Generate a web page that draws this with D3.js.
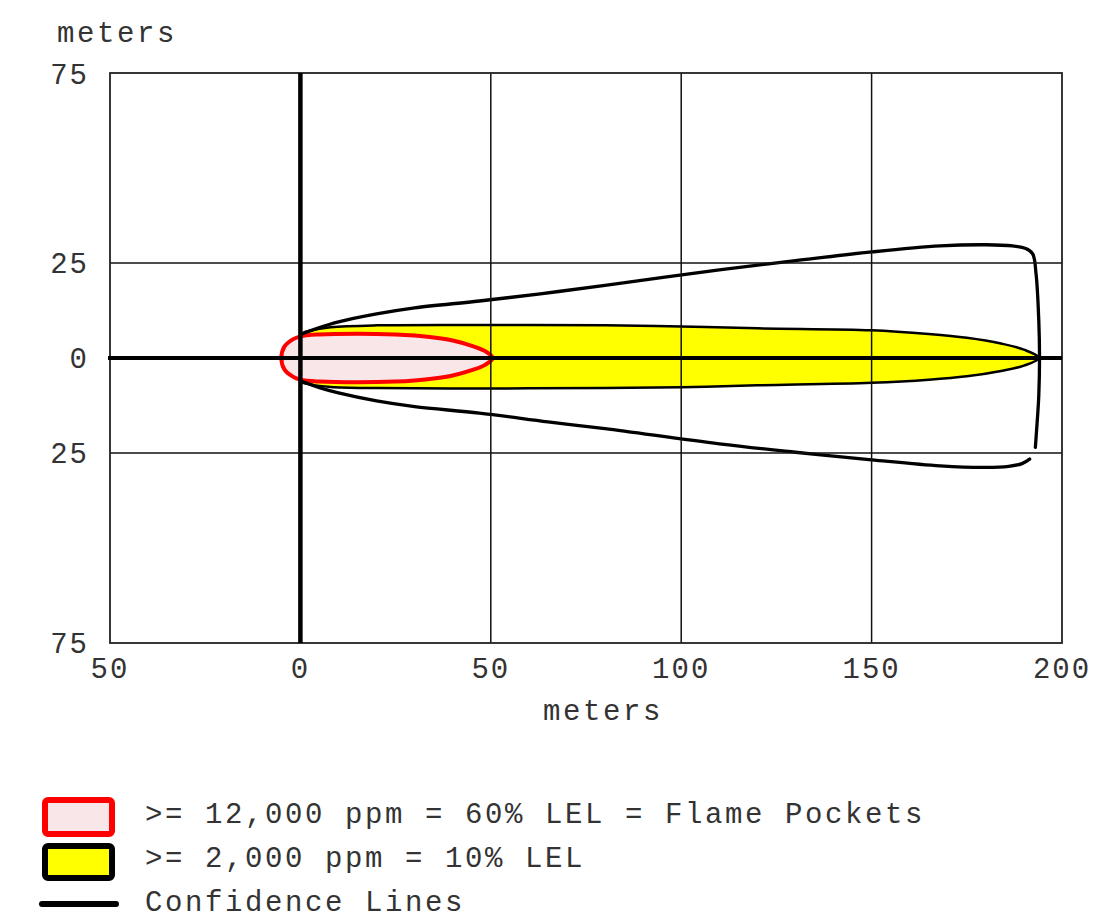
<!DOCTYPE html>
<html>
<head>
<meta charset="utf-8">
<script src="https://cdn.jsdelivr.net/npm/d3@7"></script>
<style>
  body { margin: 0; background: #fff; }
  text { font-family: "Liberation Mono", "Courier New", monospace; fill: #333; }
</style>
</head>
<body>
<svg id="canvas" width="1094" height="921"></svg>
<script>
// ---- data (meters) ----
var xTicks = [-50, 0, 50, 100, 150, 200];
var xTickLabels = ['50', '0', '50', '100', '150', '200'];
var yTicks = [75, 25, 0, -25, -75];
var yTickLabels = ['75', '25', '0', '25', '75'];

// red zone outline (>= 12,000 ppm), upper edge; lower edge mirrors it
var redUpper = [[-5, 0], [-4.2, 3], [-2, 4.9], [0, 5.7], [5, 6.2], [15, 6.4], [25, 6.2], [30, 5.9], [35, 5.4], [40, 4.6], [45, 3.2], [48.5, 1.8], [50.5, 0]];

// yellow zone outline (>= 2,000 ppm)
var yellowUpper = [[0, 6], [3, 7.3], [8, 8.1], [20, 8.6], [50, 8.7], [80, 8.6], [100, 8.3], [120, 7.8], [150, 7.3], [165, 6.3], [175, 5.3], [184, 3.8], [190, 2.2], [194, 0]];
var yellowLower = [[0, -6], [3, -7], [8, -7.6], [20, -7.9], [50, -8], [80, -7.9], [100, -7.7], [120, -7.2], [150, -6.5], [165, -5.7], [175, -4.8], [184, -3.4], [190, -2], [194, 0]];

// confidence lines
var confUpper = [[0, 6.2], [5, 8], [10, 9.5], [20, 11.6], [30, 13.2], [47, 15], [63, 16.9], [80, 19.1], [110, 23.2], [130, 25.6], [150, 27.9], [168, 29.5], [180, 29.8], [187, 29.5], [190.5, 28.8], [192.3, 27.4], [193.2, 22], [193.9, 10], [194.1, 0], [193.9, -10], [193.4, -18], [193, -23.5]];
var confLower = [[0, -6], [5, -7.8], [10, -9.2], [20, -11.3], [30, -12.8], [47, -14.5], [65, -16.8], [80, -18.6], [110, -22.6], [130, -24.8], [150, -26.8], [168, -28.4], [180, -28.8], [186, -28.5], [189.5, -27.8], [191.5, -26.6]];

var legendItems = ['>= 12,000 ppm = 60% LEL = Flame Pockets', '>= 2,000 ppm = 10% LEL', 'Confidence Lines'];

// ---- layout ----
var svg = d3.select('#canvas');
var plotLeft = 110, plotRight = 1062, plotTop = 73, plotBottom = 643;

var xScale = d3.scaleLinear().domain([-50, 200]).range([plotLeft, plotRight]);
var yScale = d3.scaleLinear().domain([-75, 75]).range([plotBottom, plotTop]);

var smooth_gen = d3.line().x(d => xScale(d[0])).y(d => yScale(d[1])).curve(d3.curveCatmullRom);
var closed_gen = d3.line().x(d => xScale(d[0])).y(d => yScale(d[1])).curve(d3.curveCatmullRomClosed);

// yellow zone
var yellowLoop = yellowUpper.concat(yellowLower.slice(0, -1).reverse());
svg.append('path').attr('d', closed_gen(yellowLoop))
  .style('fill', '#ffff00').style('stroke', '#000').style('stroke-width', 2.5);

// red zone
var redLower = redUpper.map(d => [d[0], -d[1]]);
var redLoop = redUpper.concat(redLower.slice(1, -1).reverse());
svg.append('path').attr('d', closed_gen(redLoop))
  .style('fill', '#f9e6e8').style('stroke', '#ff0000').style('stroke-width', 4);

// confidence lines
svg.append('path').attr('d', smooth_gen(confUpper))
  .style('fill', 'none').style('stroke', '#000').style('stroke-width', 3.3).style('stroke-linecap', 'round');
svg.append('path').attr('d', smooth_gen(confLower))
  .style('fill', 'none').style('stroke', '#000').style('stroke-width', 3.3).style('stroke-linecap', 'round');

// grid
var grid = svg.append('g');
xTicks.filter(d => d !== 0 && d !== -50 && d !== 200).forEach(function(d){
  grid.append('line').attr('x1', xScale(d)).attr('x2', xScale(d)).attr('y1', plotTop).attr('y2', plotBottom)
    .style('stroke', '#111').style('stroke-width', 1.5);
});
yTicks.filter(d => d !== 0 && Math.abs(d) !== 75).forEach(function(d){
  grid.append('line').attr('x1', plotLeft).attr('x2', plotRight).attr('y1', yScale(d)).attr('y2', yScale(d))
    .style('stroke', '#111').style('stroke-width', 1.5);
});

// plot frame
svg.append('rect').attr('x', plotLeft).attr('y', plotTop).attr('width', plotRight - plotLeft).attr('height', plotBottom - plotTop)
  .style('fill', 'none').style('stroke', '#222').style('stroke-width', 1.8);

// zero axes
svg.append('line').attr('x1', plotLeft - 2).attr('x2', plotRight).attr('y1', yScale(0)).attr('y2', yScale(0))
  .style('stroke', '#000').style('stroke-width', 4);
svg.append('line').attr('x1', xScale(0)).attr('x2', xScale(0)).attr('y1', plotTop).attr('y2', plotBottom)
  .style('stroke', '#000').style('stroke-width', 4.5);

// tick labels
svg.append('g').selectAll('text').data(xTicks).join('text')
  .attr('x', d => xScale(d)).attr('y', plotBottom + 27)
  .attr('text-anchor', 'middle').attr('dominant-baseline', 'middle')
  .style('font-size', '29px').style('letter-spacing', '2px')
  .text((d, i) => xTickLabels[i]);

svg.append('g').selectAll('text').data(yTicks).join('text')
  .attr('x', 89).attr('y', d => yScale(d) + (d === 75 ? 3 : 2))
  .attr('text-anchor', 'end').attr('dominant-baseline', 'middle')
  .style('font-size', '29px').style('letter-spacing', '2px')
  .text((d, i) => yTickLabels[i]);

// axis titles
svg.append('text').attr('x', 57).attr('y', 42)
  .style('font-size', '29px').style('letter-spacing', '2.6px').text('meters');
svg.append('text').attr('x', 603).attr('y', 720).attr('text-anchor', 'middle')
  .style('font-size', '29px').style('letter-spacing', '2.6px').text('meters');

// legend
var lg = svg.append('g');
lg.append('rect').attr('x', 45).attr('y', 800).attr('width', 67).attr('height', 34)
  .style('fill', '#f9e6e8').style('stroke', '#ff0000').style('stroke-width', 6).attr('rx', 3);
lg.append('rect').attr('x', 45).attr('y', 846).attr('width', 67).attr('height', 32)
  .style('fill', '#ffff00').style('stroke', '#000').style('stroke-width', 6).attr('rx', 3);
lg.append('line').attr('x1', 42).attr('x2', 116).attr('y1', 904).attr('y2', 904)
  .style('stroke', '#000').style('stroke-width', 6).style('stroke-linecap', 'round');
lg.selectAll('text').data(legendItems).join('text')
  .attr('x', 145).attr('y', (d, i) => 815 + i * 44)
  .attr('dominant-baseline', 'middle')
  .style('font-size', '29px').style('letter-spacing', '2.6px')
  .text(d => d);
</script>
</body>
</html>
